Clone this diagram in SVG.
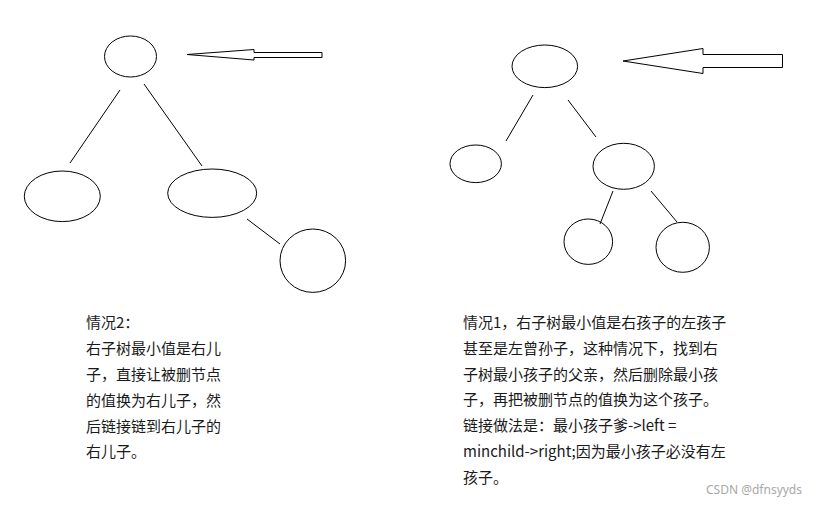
<svg xmlns="http://www.w3.org/2000/svg" width="826" height="506" viewBox="0 0 826 506">
<style>
.n{fill:none;stroke:#000;stroke-width:1}
.e{stroke:#000;stroke-width:1;fill:none}
.t{font-family:"Noto Sans CJK SC","Noto Sans",sans-serif;font-size:15px;fill:#1a1a1a}
.w{font-family:"Noto Sans","Liberation Sans",sans-serif;font-size:12px;fill:#a8a8a8}
</style>
<rect width="826" height="506" fill="#fff"/>
<g id="connectors">
<line class="e" x1="120" y1="90" x2="70" y2="163"/>
<line class="e" x1="144" y1="84" x2="202" y2="166"/>
<line class="e" x1="247" y1="219" x2="280" y2="244"/>
<line class="e" x1="533" y1="95" x2="506" y2="141"/>
<line class="e" x1="568" y1="100" x2="596" y2="137"/>
<line class="e" x1="613" y1="191" x2="600" y2="224"/>
<line class="e" x1="651" y1="191" x2="677" y2="222"/>
</g>
<g id="arrow-left"><polygon class="n" points="187,54.5 254,49.5 254,52.5 322,52.5 322,57.5 254,57.5 254,60"/></g>
<g id="arrow-right"><polygon class="n" points="623,61 703,48.5 703,54.5 782.5,54.5 782.5,67.5 703,67.5 703,73.5"/></g>
<g id="L-root"><ellipse class="n" cx="130.5" cy="56.5" rx="26" ry="20.5"/></g>
<g id="L-left"><ellipse class="n" cx="62.3" cy="196.3" rx="38" ry="25.3"/></g>
<g id="L-right"><ellipse class="n" cx="212.2" cy="193.2" rx="44.5" ry="24.2"/></g>
<g id="L-rr"><ellipse class="n" cx="312.8" cy="260.7" rx="32.8" ry="31.7"/></g>
<g id="R-root"><ellipse class="n" cx="544.8" cy="66.3" rx="32.8" ry="21.3"/></g>
<g id="R-left"><ellipse class="n" cx="475.7" cy="163.8" rx="25.7" ry="18.8"/></g>
<g id="R-right"><ellipse class="n" cx="623.7" cy="166.3" rx="30.7" ry="23"/></g>
<g id="R-rl"><ellipse class="n" cx="588.3" cy="241.7" rx="24.3" ry="22.7"/></g>
<g id="R-rr"><ellipse class="n" cx="682.7" cy="247.3" rx="26.7" ry="25"/></g>
<g id="text-left" class="t">
<text x="86" y="328">情况2：</text>
<text x="86" y="354">右子树最小值是右儿</text>
<text x="86" y="380">子，直接让被删节点</text>
<text x="86" y="406">的值换为右儿子，然</text>
<text x="86" y="432">后链接链到右儿子的</text>
<text x="86" y="457">右儿子。</text>
</g>
<g id="text-right" class="t">
<text x="463" y="328">情况1，右子树最小值是右孩子的左孩子</text>
<text x="463" y="354">甚至是左曾孙子，这种情况下，找到右</text>
<text x="463" y="380">子树最小孩子的父亲，然后删除最小孩</text>
<text x="463" y="405">子，再把被删节点的值换为这个孩子。</text>
<text x="463" y="431">链接做法是：最小孩子爹-&gt;left =</text>
<text x="463" y="457">minchild-&gt;right;因为最小孩子必没有左</text>
<text x="463" y="483">孩子。</text>
</g>
<text class="w" x="706" y="494">CSDN @dfnsyyds</text>
</svg>
